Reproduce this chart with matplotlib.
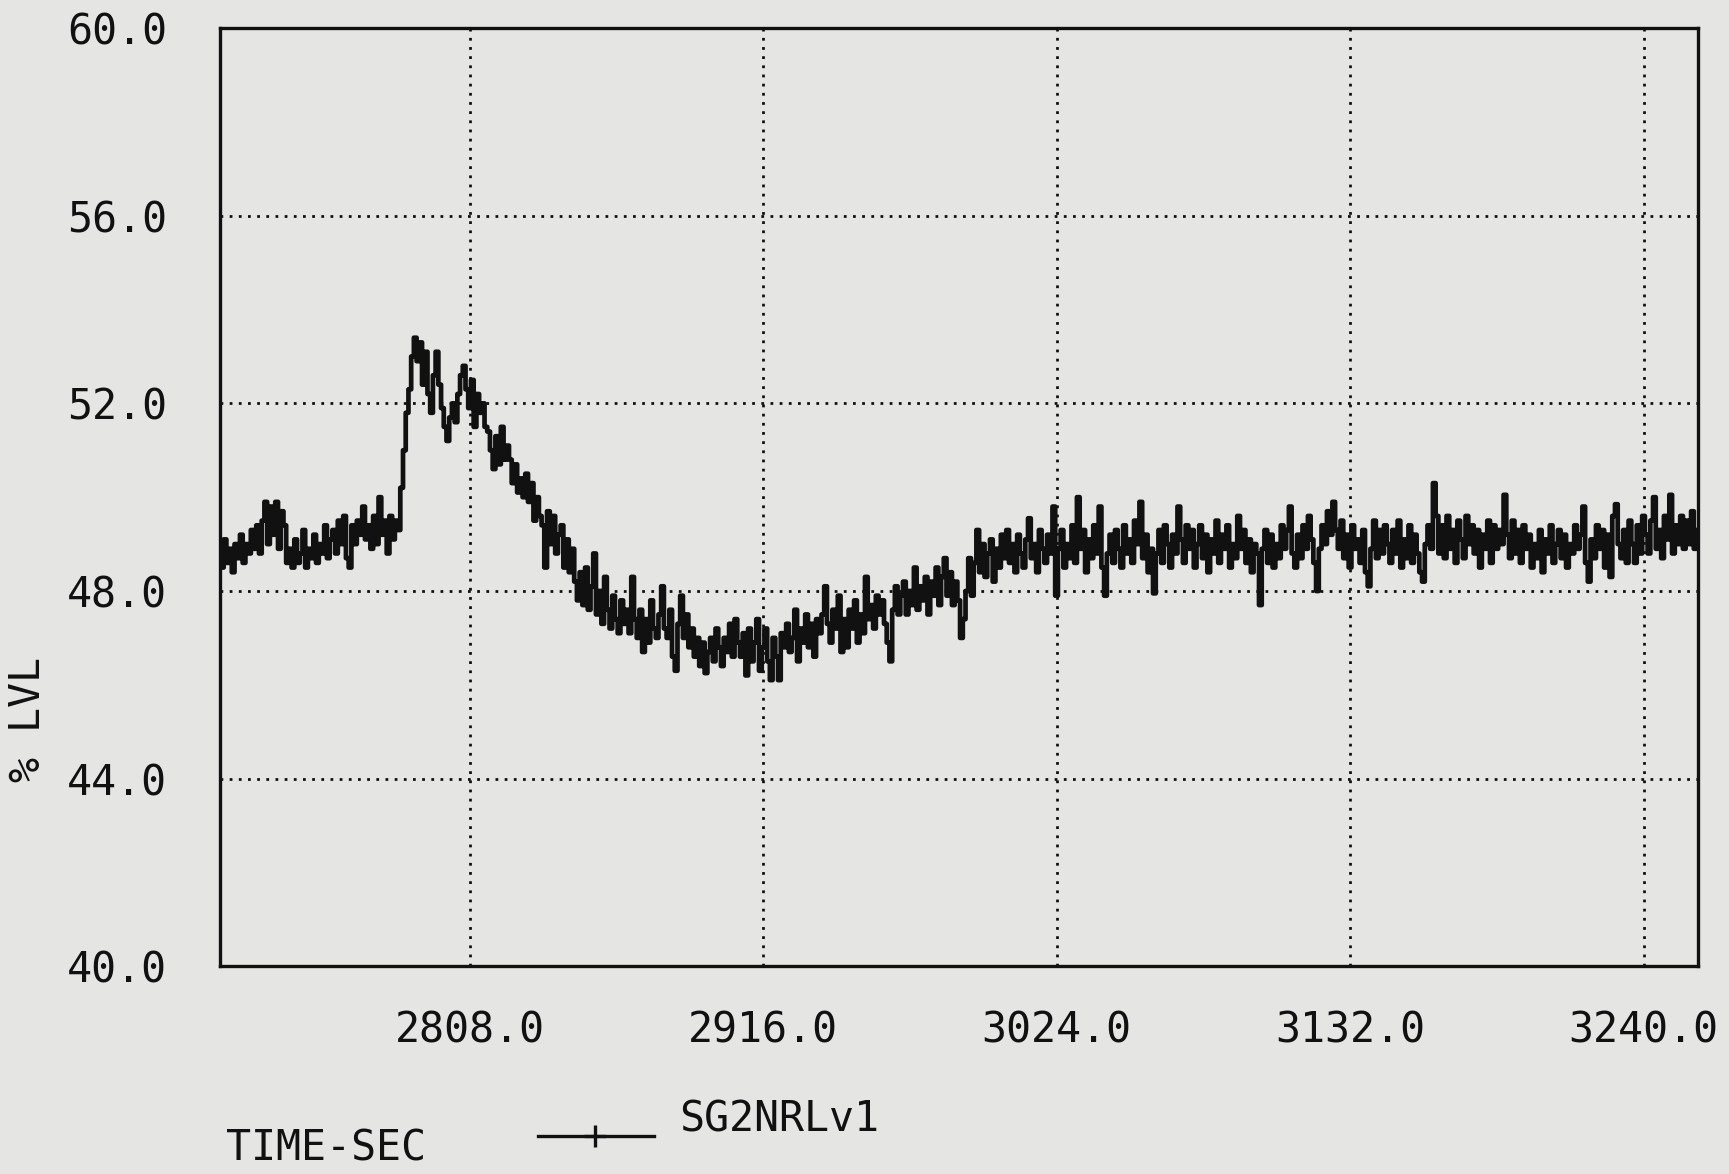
import numpy as np
import matplotlib
matplotlib.use("Agg")
import matplotlib.pyplot as plt
from matplotlib.lines import Line2D

plt.rcParams['font.family'] = ['DejaVu Sans Mono']

# SG2 narrow range level (%), one sample per second starting at t_start
t_start = 2716.0

level_pre = [
    48.9, 48.5, 49.1, 48.6, 48.9, 48.4, 49.0, 48.7, 49.2, 48.6, 49.0, 48.8,
    49.3, 48.9, 49.4, 48.8, 49.5, 49.9, 49.0, 49.8, 49.2, 49.9, 48.9, 49.7, 49.4,
    48.6, 48.9, 48.5, 49.1, 48.6, 48.8, 49.3, 48.5, 48.9, 48.7, 49.2, 48.6, 49.0,
    48.8, 49.4, 48.7, 49.1,
    49.3, 48.8, 49.5, 49.0, 49.6, 48.7, 48.5, 49.4, 49.0, 49.5, 49.2, 49.8, 49.1,
    49.4, 48.9, 49.6, 49.0, 50.0, 49.2, 49.5, 48.8, 49.6, 49.1, 49.5, 49.3,
]

level_surge = [
    50.2, 51.0, 51.8, 52.3, 53.0, 53.4,
    52.9, 53.3, 52.4, 53.1,
    52.2, 51.8, 52.6, 53.1, 52.4,
    51.9, 51.5, 51.2, 51.7, 52.0,
    51.6, 52.2, 52.6, 52.8, 52.3, 51.9,
    52.5, 51.5, 52.2, 51.8, 52.0, 51.5,
    51.4, 51.0, 50.6, 51.3, 50.7, 51.5,
    50.8, 51.1, 50.8, 50.3, 50.7, 50.1,
    50.4, 50.0, 50.5, 49.9, 50.3, 49.5,
    50.0, 49.6, 49.4, 48.5, 49.7, 49.0,
    49.6, 48.8, 49.2, 49.4, 48.5, 49.1, 48.4, 48.9,
]

level_dip = [
    48.2, 47.8, 48.4, 47.7, 48.5, 47.6, 48.1, 48.8, 47.5, 48.0,
    47.3, 48.3, 47.6, 47.2, 47.9, 47.4, 47.1, 47.8, 47.3, 47.6,
    47.1, 48.3, 47.4, 47.0, 47.6, 46.7, 47.4, 46.9, 47.8, 47.2,
    47.0, 47.5, 48.1, 47.2, 47.0, 47.6, 46.6, 46.3, 47.3, 47.9,
    47.0, 47.5, 46.8, 47.2, 46.6, 47.0, 46.4, 46.9, 46.25, 46.7,
    47.0, 46.5, 47.2, 46.8, 46.4, 47.0, 46.7, 47.3, 46.6, 47.4,
    46.9, 46.6, 47.1, 46.2, 47.2, 46.5, 46.9, 47.4, 46.3, 46.8,
    47.2, 46.5, 46.1, 47.0, 46.6, 46.1, 47.1, 46.8, 47.3, 46.7,
    47.0, 47.6, 46.5, 47.2, 46.9, 47.5, 46.8, 47.3, 46.6, 47.4,
    47.1, 47.5, 48.1, 47.3, 46.9, 47.6, 47.2, 47.9, 46.7, 47.4,
    46.8, 47.6, 47.2, 47.8, 46.9, 47.5, 47.1, 48.3, 47.4, 47.7,
    47.2, 47.9, 47.5, 47.8, 47.3, 46.9, 46.5, 47.6, 48.1, 47.5,
    47.9, 48.2, 47.5, 48.0, 47.7, 48.5, 47.6, 48.1, 47.8, 48.3,
    47.5, 48.2, 47.9, 48.5, 47.7, 48.3, 48.7, 47.9, 48.4, 47.7,
    48.2, 47.8, 47.0, 47.4, 48.0, 48.7, 47.9, 48.6, 49.3,
]

level_settle = [
    48.4, 49.0, 48.3, 48.8, 49.1, 48.2, 48.9, 48.5, 49.2, 48.7,
    49.3, 48.6, 49.0, 48.4, 49.2, 48.8, 48.5, 49.1, 49.55, 48.7,
    49.0, 48.4, 49.3, 48.9, 48.6, 49.2, 48.8, 49.8, 47.9, 48.9,
    49.3, 48.5, 49.0, 48.7, 49.4, 48.6, 50.0, 48.9, 49.3, 48.4,
    49.1, 48.7, 49.4, 48.8, 49.8, 48.5, 47.9, 48.8, 49.2, 48.6,
    49.3, 48.9, 48.5, 49.4, 48.8, 49.1, 48.6, 49.5, 49.0, 49.9,
    48.7, 49.2, 48.4, 48.9, 47.95, 48.8, 49.3, 48.6, 49.4, 49.0,
    48.5, 49.2, 48.8, 49.8, 49.1, 48.6, 49.4, 48.9, 49.3, 48.5,
    49.0, 49.4, 48.7, 49.2, 48.4, 49.1, 48.8, 49.5, 48.6, 49.2,
    48.9, 49.4, 48.5, 49.0, 48.7, 49.6, 48.9, 49.3, 48.6, 49.1,
    48.4, 49.0, 48.8, 47.7, 48.9, 49.3, 48.6, 49.2, 48.5, 49.0,
    48.7, 49.4, 48.9, 49.3, 49.8, 48.8, 48.5, 49.2, 48.7, 49.4,
    48.9, 49.6, 49.1, 48.6, 48.0, 48.9, 49.4, 49.0, 49.7, 49.2,
    49.9, 49.3, 48.9, 49.5, 48.7, 49.2, 48.5, 49.4, 48.9, 49.1,
    48.6, 49.3, 48.4, 48.1, 48.9, 49.5, 48.7, 49.3, 48.8, 49.4,
    49.0, 48.6, 49.3, 48.8, 49.5, 48.5, 49.1, 48.7, 49.4, 48.6,
    49.2, 48.8, 48.4, 48.2, 49.0, 49.4, 48.9, 50.3, 49.6, 48.8,
    49.4, 48.7, 49.6, 48.9, 49.3, 48.6, 49.5, 49.1, 48.7, 49.6,
    49.0, 49.4, 48.8, 49.3, 48.5, 49.2, 48.9, 49.5, 48.6, 49.4,
    48.9, 49.3, 49.0, 50.05, 49.2, 48.7, 49.5, 48.8, 49.3, 48.6,
    49.4, 48.9, 49.2, 48.5, 49.0, 48.7, 49.3, 48.4, 49.1, 48.8,
    49.4, 48.6, 49.0, 49.3, 48.7, 49.2, 48.5, 49.0, 48.8, 49.4,
    48.9, 49.2, 49.8, 48.6, 48.2, 49.1, 48.7, 49.4, 48.9, 49.3,
    48.5, 49.2, 48.3, 49.6, 49.85, 49.0, 48.7, 49.3, 48.6, 49.5,
    49.0, 48.6, 49.4, 48.8, 49.6, 49.2, 48.8, 49.5, 50.0, 48.9,
    49.3, 48.7, 49.6, 49.1, 50.05, 48.8, 49.4, 49.0, 49.6, 48.9,
    49.5, 49.0, 49.7, 48.9, 49.3,
]

level = np.array(level_pre + level_surge + level_dip + level_settle)
time_sec = t_start + np.arange(len(level))

x_ticks = [2808.0, 2916.0, 3024.0, 3132.0, 3240.0]
y_ticks = [40.0, 44.0, 48.0, 52.0, 56.0, 60.0]

paper = '#e5e5e3'
ink = '#111111'

fig = plt.figure(figsize=(17.29, 11.74), dpi=100, facecolor=paper)
ax = fig.add_axes([0.127, 0.177, 0.855, 0.799])
ax.set_facecolor(paper)

# pen-plotter look: step between samples, heavy pen
ax.plot(time_sec, level, color=ink, lw=3.4, drawstyle='steps-mid')

ax.set_xlim(2716, 3260)
ax.set_ylim(40, 60)
ax.set_xticks(x_ticks)
ax.set_xticklabels(['%.1f' % v for v in x_ticks])
ax.set_yticks(y_ticks)
ax.set_yticklabels(['%.1f' % v for v in y_ticks])
ax.tick_params(axis='x', length=0, labelsize=30, pad=31, colors=ink)
ax.tick_params(axis='y', length=0, labelsize=30, pad=38, colors=ink)

ax.grid(True, color=ink, lw=2.0, ls=(0, (1, 2.3)))
for sp in ax.spines.values():
    sp.set_linewidth(2.4)
    sp.set_color(ink)

fig.text(0.016, 0.387, '% LVL', rotation=90, ha='center', va='center',
         fontsize=30, color=ink)
fig.text(0.131, 0.004, 'TIME-SEC', ha='left', va='bottom',
         fontsize=30, color=ink)

# legend key: line with a plus marker in the middle
fig.add_artist(Line2D([0.311, 0.378], [0.0324, 0.0324], transform=fig.transFigure,
                      color=ink, lw=2.4))
fig.add_artist(Line2D([0.344], [0.0324], transform=fig.transFigure,
                      color=ink, marker='+', markersize=16, mew=2.4, lw=0))
fig.text(0.393, 0.0468, 'SG2NRLv1', ha='left', va='center',
         fontsize=30, color=ink)

fig.savefig('out.png', dpi=100, facecolor=paper)
